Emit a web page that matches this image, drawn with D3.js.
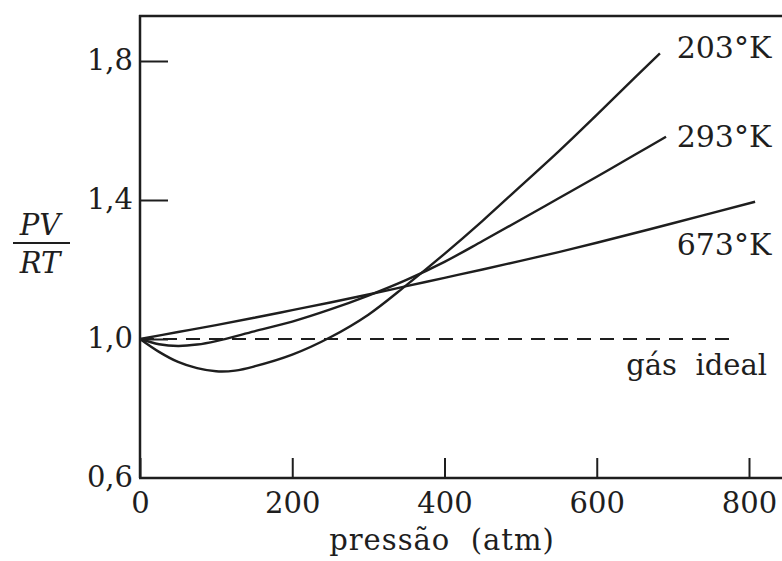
<!DOCTYPE html>
<html>
<head>
<meta charset="utf-8">
<script src="https://cdn.jsdelivr.net/npm/d3@7"></script>
<style>
  body { margin: 0; background: #fff; }
  text { font-family: "DejaVu Serif", serif; fill: #1e1e1e; }
</style>
</head>
<body>
<div id="chart"></div>
<script>
// pressure (atm) and PV/RT
var p203 = [0, 25, 50, 75, 100, 125, 150, 200, 250, 300, 350, 400, 450, 500, 550, 600, 650, 683];
var z203 = [1.0, 0.963, 0.934, 0.916, 0.907, 0.909, 0.921, 0.955, 1.005, 1.07, 1.155, 1.245, 1.34, 1.44, 1.54, 1.645, 1.752, 1.822];

var p293 = [0, 25, 50, 75, 100, 150, 200, 250, 300, 350, 400, 450, 500, 550, 600, 650, 691];
var z293 = [1.0, 0.985, 0.98, 0.984, 0.994, 1.022, 1.05, 1.085, 1.125, 1.17, 1.222, 1.282, 1.343, 1.405, 1.467, 1.53, 1.582];

var p673 = [0, 50, 100, 150, 200, 250, 300, 350, 400, 450, 500, 550, 600, 700, 808];
var z673 = [1.0, 1.02, 1.04, 1.061, 1.083, 1.105, 1.128, 1.152, 1.176, 1.2, 1.225, 1.25, 1.277, 1.333, 1.395];

var pIdeal = [0, 782];
var zIdeal = [1.0, 1.0];

var xTicks = [0, 200, 400, 600, 800];
var yTicks = [0.6, 1.0, 1.4, 1.8];
var yTickLabels = ["0,6", "1,0", "1,4", "1,8"];
var seriesNames = ["203°K", "293°K", "673°K"];

function program() {
    var width = 782,
        height = 561;

    var svg = d3.select("#chart")
        .append("svg")
        .attr("width", width)
        .attr("height", height);

    var x = d3.scaleLinear().domain([0, 800]).range([140, 749]);
    var y = d3.scaleLinear().domain([0.6, 1.8]).range([478, 61]);

    var ink = "#1e1e1e";

    // frame: left axis, bottom axis, top rule
    svg.append("line")
        .attr("x1", 140).attr("x2", 140)
        .attr("y1", 15).attr("y2", y(0.6))
        .attr("stroke", ink).attr("stroke-width", 2.5);
    svg.append("line")
        .attr("x1", 139).attr("x2", width)
        .attr("y1", y(0.6)).attr("y2", y(0.6))
        .attr("stroke", ink).attr("stroke-width", 2.5);
    svg.append("line")
        .attr("x1", 139).attr("x2", width)
        .attr("y1", 16).attr("y2", 16)
        .attr("stroke", ink).attr("stroke-width", 2.5);

    // x axis
    var xAxis = svg.append("g")
        .attr("transform", "translate(0," + y(0.6) + ")")
        .call(d3.axisBottom(x).tickValues(xTicks).tickSizeInner(-20).tickSizeOuter(0).tickPadding(0));
    xAxis.select(".domain").remove();
    xAxis.selectAll(".tick line").attr("stroke", ink).attr("stroke-width", 2);
    xAxis.selectAll(".tick text")
        .attr("y", 35).attr("dy", 0)
        .style("font-family", "DejaVu Serif")
        .style("font-size", "29px")
        .attr("fill", ink);

    // y axis
    var yAxis = svg.append("g")
        .attr("transform", "translate(140,0)")
        .call(d3.axisLeft(y).tickValues(yTicks)
            .tickFormat(function(d, i) { return yTickLabels[i]; })
            .tickSizeInner(-28).tickSizeOuter(0).tickPadding(0));
    yAxis.select(".domain").remove();
    yAxis.selectAll(".tick line").attr("stroke", ink).attr("stroke-width", 2);
    yAxis.selectAll(".tick text")
        .attr("x", -7).attr("dy", "0.3em")
        .style("font-family", "DejaVu Serif")
        .style("font-size", "29px")
        .attr("fill", ink);
    // no tick mark at 0,6 (it sits on the bottom axis)
    yAxis.selectAll(".tick line").filter(function(d) { return d === 0.6; }).remove();

    var line = d3.line()
        .x(function(d) { return x(d[0]); })
        .y(function(d) { return y(d[1]); })
        .curve(d3.curveCatmullRom);

    // ideal gas dashed line
    svg.append("path")
        .datum(d3.zip(pIdeal, zIdeal))
        .attr("d", d3.line().x(function(d) { return x(d[0]); }).y(function(d) { return y(d[1]); }))
        .attr("fill", "none")
        .attr("stroke", ink)
        .attr("stroke-width", 2.2)
        .attr("stroke-dasharray", "14,9");

    var series = [d3.zip(p203, z203), d3.zip(p293, z293), d3.zip(p673, z673)];

    svg.append("g")
        .selectAll("path")
        .data(series)
        .join("path")
        .attr("d", line)
        .attr("fill", "none")
        .attr("stroke", ink)
        .attr("stroke-width", 2.4);

    // curve labels
    var labelAt = [[705, 1.81], [705, 1.553], [705, 1.242]];
    svg.append("g")
        .selectAll("text")
        .data(seriesNames)
        .join("text")
        .attr("x", function(d, i) { return x(labelAt[i][0]); })
        .attr("y", function(d, i) { return y(labelAt[i][1]); })
        .style("font-size", "30px")
        .text(function(d) { return d; });

    svg.append("text")
        .attr("x", 767)
        .attr("y", 375)
        .attr("text-anchor", "end")
        .style("font-size", "29px")
        .style("white-space", "pre")
        .text("gás  ideal");

    // axis titles
    svg.append("text")
        .attr("x", 442)
        .attr("y", 550)
        .attr("text-anchor", "middle")
        .style("font-size", "29px")
        .style("letter-spacing", "1px")
        .style("white-space", "pre")
        .text("pressão  (atm)");

    var yt = svg.append("g").attr("transform", "translate(40,0)");
    yt.append("text")
        .attr("x", 0).attr("y", 235)
        .attr("text-anchor", "middle")
        .style("font-size", "29px")
        .style("font-style", "italic")
        .text("PV");
    yt.append("line")
        .attr("x1", -27).attr("x2", 30)
        .attr("y1", 243).attr("y2", 243)
        .attr("stroke", ink).attr("stroke-width", 2);
    yt.append("text")
        .attr("x", 0).attr("y", 273)
        .attr("text-anchor", "middle")
        .style("font-size", "29px")
        .style("font-style", "italic")
        .text("RT");
}

program();
</script>
</body>
</html>
